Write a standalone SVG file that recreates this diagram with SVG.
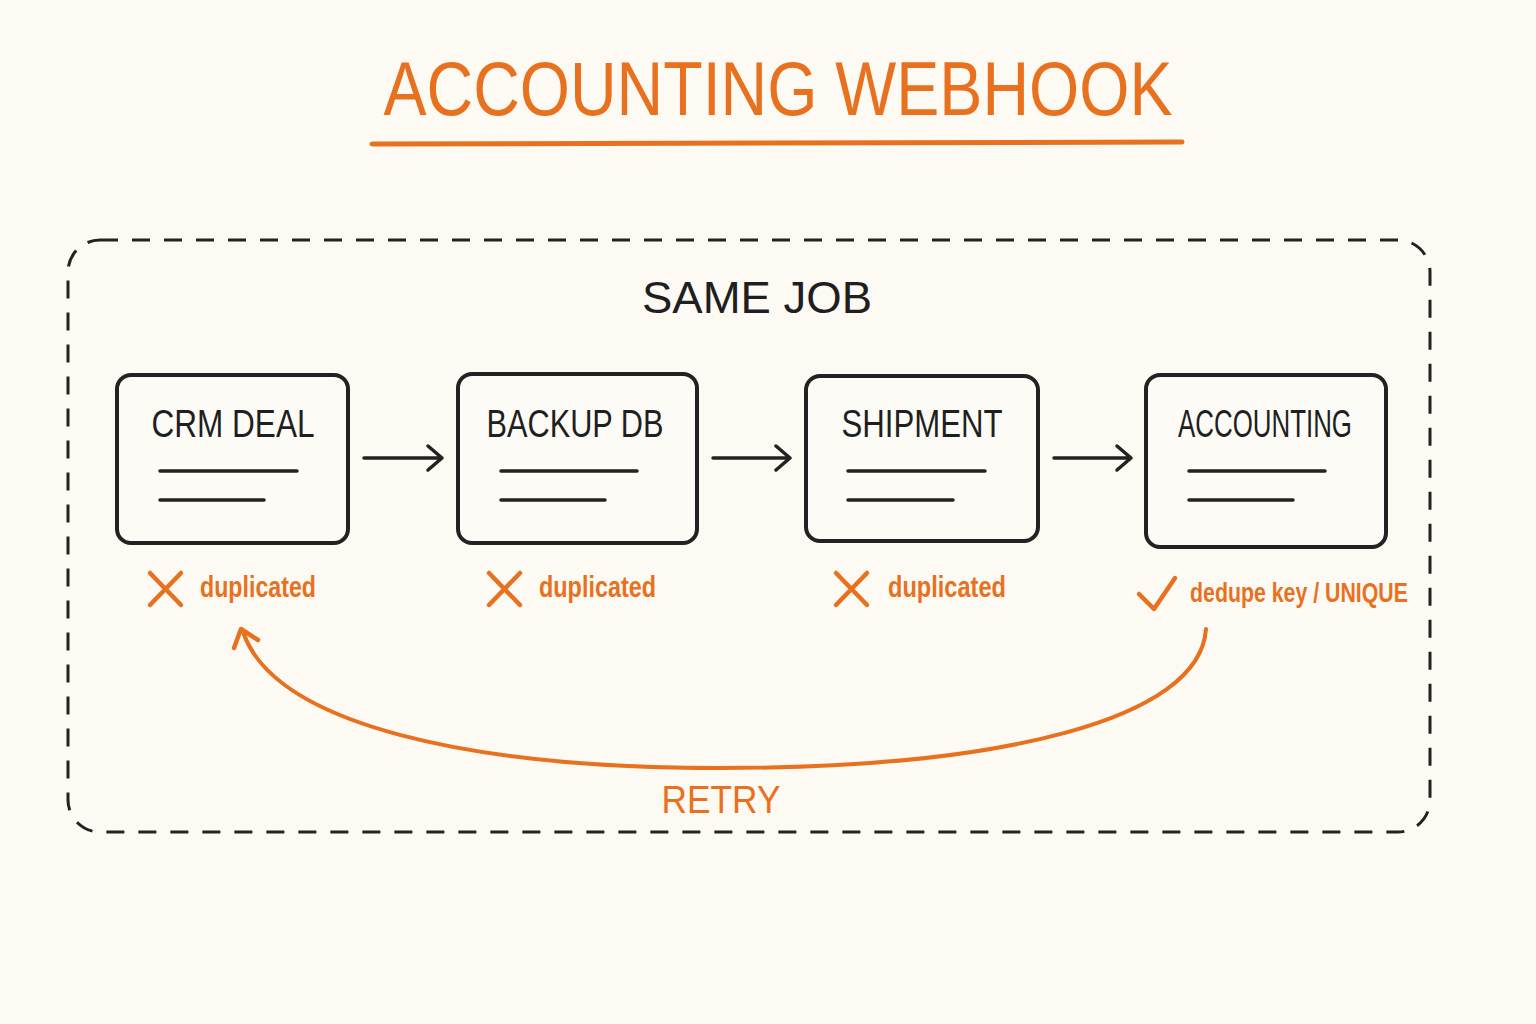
<svg xmlns="http://www.w3.org/2000/svg" width="1536" height="1024" viewBox="0 0 1536 1024">
<defs>
<style>
.t{font-family:"Liberation Sans","DejaVu Sans",sans-serif;}
.ink{fill:#1f1f1f;}
.or{fill:#e8711f;}
.b{font-weight:bold;}
.box{fill:#fdfbf5;stroke:#222;stroke-width:4;}
.ln{stroke:#222;stroke-width:3.5;stroke-linecap:round;fill:none;}
.arr{stroke:#222;stroke-width:3.5;stroke-linecap:round;stroke-linejoin:round;fill:none;}
.om{stroke:#e8711f;stroke-width:4.5;stroke-linecap:round;stroke-linejoin:round;fill:none;}
</style>
</defs>
<rect width="1536" height="1024" fill="#fcfaf3"/>
<g id="title">
<text class="t or" x="778" y="115" font-size="76" text-anchor="middle" textLength="789" lengthAdjust="spacingAndGlyphs">ACCOUNTING WEBHOOK</text>
<path d="M372 144 L1182 142" stroke="#e8711f" stroke-width="5" stroke-linecap="round"/>
</g>
<g id="same-job">
<rect x="68" y="240" width="1362" height="592" rx="32" fill="none" stroke="#222" stroke-width="3" stroke-dasharray="18 14"/>
<text class="t ink" x="757" y="313" font-size="44" text-anchor="middle" textLength="230" lengthAdjust="spacingAndGlyphs">SAME JOB</text>
</g>
<g id="crm-deal">
<rect class="box" x="117" y="375" width="231" height="168" rx="14"/>
<text class="t ink" x="233" y="437" font-size="38" text-anchor="middle" textLength="163" lengthAdjust="spacingAndGlyphs">CRM DEAL</text>
<path class="ln" d="M160 471 H297 M160 500 H264"/>
</g>
<g id="backup-db">
<rect class="box" x="458" y="374" width="239" height="169" rx="14"/>
<text class="t ink" x="575" y="437" font-size="38" text-anchor="middle" textLength="177" lengthAdjust="spacingAndGlyphs">BACKUP DB</text>
<path class="ln" d="M501 471 H637 M501 500 H605"/>
</g>
<g id="shipment">
<rect class="box" x="806" y="376" width="232" height="165" rx="14"/>
<text class="t ink" x="922" y="437" font-size="38" text-anchor="middle" textLength="161" lengthAdjust="spacingAndGlyphs">SHIPMENT</text>
<path class="ln" d="M848 471 H985 M848 500 H953"/>
</g>
<g id="accounting">
<rect class="box" x="1146" y="375" width="240" height="172" rx="14"/>
<text class="t ink" x="1265" y="437" font-size="38" text-anchor="middle" textLength="174" lengthAdjust="spacingAndGlyphs">ACCOUNTING</text>
<path class="ln" d="M1189 471 H1325 M1189 500 H1293"/>
</g>
<g id="status">
<path class="om" d="M150 573 L181 605 M181 573 L150 605"/>
<text class="t or b" x="200" y="597" font-size="29" textLength="116" lengthAdjust="spacingAndGlyphs">duplicated</text>
<path class="om" d="M489 573 L520 605 M520 573 L489 605"/>
<text class="t or b" x="539" y="597" font-size="29" textLength="117" lengthAdjust="spacingAndGlyphs">duplicated</text>
<path class="om" d="M836 573 L867 605 M867 573 L836 605"/>
<text class="t or b" x="888" y="597" font-size="29" textLength="118" lengthAdjust="spacingAndGlyphs">duplicated</text>
<path class="om" d="M1139 594 L1154 609 L1175 578"/>
<text class="t or b" x="1190" y="602" font-size="27" textLength="218" lengthAdjust="spacingAndGlyphs">dedupe key / UNIQUE</text>
</g>
<g id="connectors">
<path class="arr" d="M364 458 H442 M428 446 L442 458 L428 470"/>
<path class="arr" d="M713 458 H790 M776 446 L790 458 L776 470"/>
<path class="arr" d="M1054 458 H1131 M1117 446 L1131 458 L1117 470"/>
<path d="M1206 629 C1200 720 1000 768 720 768 C470 768 275 725 243 632" fill="none" stroke="#e8711f" stroke-width="4" stroke-linecap="round"/>
<path class="om" d="M234 648 L241 629 L258 640"/>
<text class="t or" x="721" y="813" font-size="38" text-anchor="middle" textLength="119" lengthAdjust="spacingAndGlyphs">RETRY</text>
</g>
</svg>
